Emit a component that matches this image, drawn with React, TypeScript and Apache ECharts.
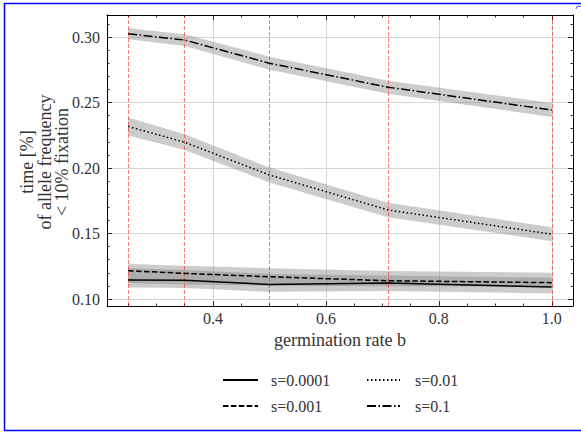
import React, { useEffect, useRef } from "react";
import * as echarts from "echarts";

// germination rates (x) – also the positions of the red reference lines
const germination = [0.25, 0.35, 0.5, 0.71, 1.0];

// s = 0.0001 (solid)
const s0001 = [0.1145, 0.1143, 0.1112, 0.1122, 0.1092];
const s0001Lo = [0.1089, 0.1085, 0.1055, 0.1062, 0.1043];
const s0001Hi = [0.1237, 0.1222, 0.1192, 0.1180, 0.1163];
// s = 0.001 (dashed)
const s001 = [0.1216, 0.1196, 0.1170, 0.1140, 0.1125];
const s001Lo = [0.1122, 0.1112, 0.1102, 0.1097, 0.1096];
const s001Hi = [0.1267, 0.1255, 0.1235, 0.1214, 0.1201];
// s = 0.01 (dotted)
const s01 = [0.2317, 0.2197, 0.1947, 0.1680, 0.1495];
const s01Lo = [0.2249, 0.2137, 0.1890, 0.1625, 0.1442];
const s01Hi = [0.2385, 0.2257, 0.2004, 0.1735, 0.1548];
// s = 0.1 (dash-dot)
const s1 = [0.3025, 0.2977, 0.2800, 0.2617, 0.2443];
const s1Lo = [0.2983, 0.2932, 0.2750, 0.2567, 0.2390];
const s1Hi = [0.3067, 0.3022, 0.2850, 0.2667, 0.2496];

const seriesNames = ["s=0.0001", "s=0.001", "s=0.01", "s=0.1"];

// ticks
const xMajor = [0.4, 0.6, 0.8, 1.0];
const xMinor = [0.25, 0.3, 0.35, 0.45, 0.5, 0.55, 0.65, 0.7, 0.75, 0.85, 0.9, 0.95];
const yMajor = [0.1, 0.15, 0.2, 0.25, 0.3];
const yMinor = [
  0.11, 0.12, 0.13, 0.14, 0.16, 0.17, 0.18, 0.19, 0.21, 0.22, 0.23, 0.24,
  0.26, 0.27, 0.28, 0.29, 0.31,
];

const X_MIN = 0.2125;
const X_MAX = 1.0375;
const Y_MIN = 0.0947;
const Y_MAX = 0.3168;

const FONT = "Liberation Serif";
const TXT = "#333";

function bandSeries(lo: number[], hi: number[]) {
  return {
    type: "custom",
    xAxisIndex: 0,
    yAxisIndex: 0,
    z: 1,
    silent: true,
    data: germination.map((x, i) => [x, lo[i], hi[i]]),
    renderItem: (params: any, api: any) => {
      if (params.dataIndex !== 0) return null;
      const upper = germination.map((x, i) => api.coord([x, hi[i]]));
      const lower = germination.map((x, i) => api.coord([x, lo[i]])).reverse();
      return {
        type: "polygon",
        shape: { points: upper.concat(lower) },
        style: { fill: "rgba(128,128,128,0.4)", stroke: "none" },
      };
    },
  };
}

function lineSeries(name: string, vals: number[], dash: any, extra: any = {}) {
  return {
    name,
    type: "line",
    xAxisIndex: 0,
    yAxisIndex: 0,
    z: 5,
    symbol: "none",
    showSymbol: false,
    color: "#000",
    lineStyle: { color: "#000", width: 1.5, type: dash },
    data: germination.map((x, i) => [x, vals[i]]),
    ...extra,
  };
}

function xAxisDef(position: string, ticks: number[], len: number, main: boolean) {
  return {
    type: "value",
    position,
    min: X_MIN,
    max: X_MAX,
    axisLine: { show: main, lineStyle: { color: "#000", width: 1 } },
    axisTick: {
      show: true,
      inside: true,
      length: len,
      customValues: ticks,
      lineStyle: { color: "#000", width: 0.8 },
    },
    axisLabel:
      main && position === "bottom"
        ? {
            show: true,
            customValues: xMajor,
            formatter: (v: number) => v.toFixed(1),
            margin: 4,
            color: TXT,
            fontFamily: FONT,
            fontSize: 16,
          }
        : { show: false },
    splitLine:
      main && position === "bottom"
        ? { show: true, lineStyle: { color: "#d6d6d6", width: 1 } }
        : { show: false },
    ...(main && position === "bottom"
      ? {
          name: "germination rate b",
          nameLocation: "middle",
          nameGap: 24,
          nameTextStyle: { color: TXT, fontFamily: FONT, fontSize: 18 },
        }
      : {}),
  };
}

function yAxisDef(position: string, ticks: number[], len: number, main: boolean) {
  return {
    type: "value",
    position,
    min: Y_MIN,
    max: Y_MAX,
    axisLine: { show: main, lineStyle: { color: "#000", width: 1 } },
    axisTick: {
      show: true,
      inside: true,
      length: len,
      customValues: ticks,
      lineStyle: { color: "#000", width: 0.8 },
    },
    axisLabel:
      main && position === "left"
        ? {
            show: true,
            customValues: yMajor,
            formatter: (v: number) => v.toFixed(2),
            margin: 7,
            color: TXT,
            fontFamily: FONT,
            fontSize: 16,
          }
        : { show: false },
    splitLine:
      main && position === "left"
        ? { show: true, lineStyle: { color: "#d6d6d6", width: 1 } }
        : { show: false },
  };
}

export default function App() {
  const ref = useRef<HTMLDivElement>(null);

  useEffect(() => {
    if (!ref.current) return;
    const chart = echarts.init(ref.current, undefined, { renderer: "svg" });

    const legendCommon = {
      orient: "vertical",
      padding: 0,
      itemHeight: 14,
      itemGap: 10,
      itemStyle: { color: "rgba(0,0,0,0)", borderColor: "rgba(0,0,0,0)", borderWidth: 0 },
      selectedMode: false,
    };

    chart.setOption({
      animation: false,
      backgroundColor: "#fff",
      textStyle: { fontFamily: FONT, color: TXT },
      grid: { left: 107, top: 15, width: 466, height: 291, containLabel: false },
      xAxis: [
        xAxisDef("bottom", xMajor, 5, true),
        xAxisDef("bottom", xMinor, 2.5, false),
        xAxisDef("top", xMajor, 5, true),
        xAxisDef("top", xMinor, 2.5, false),
      ],
      yAxis: [
        yAxisDef("left", yMajor, 5, true),
        yAxisDef("left", yMinor, 2.5, false),
        yAxisDef("right", yMajor, 5, true),
        yAxisDef("right", yMinor, 2.5, false),
      ],
      legend: [
        {
          ...legendCommon,
          left: 222,
          top: 372,
          itemWidth: 35,
          textStyle: { color: TXT, fontFamily: FONT, fontSize: 16, padding: [0, 0, 0, 8] },
          data: [seriesNames[0], seriesNames[1]],
        },
        {
          ...legendCommon,
          left: 366,
          top: 372,
          itemWidth: 33,
          textStyle: { color: TXT, fontFamily: FONT, fontSize: 16, padding: [0, 0, 0, 10] },
          data: [seriesNames[2], seriesNames[3]],
        },
      ],
      graphic: [
        {
          type: "rect",
          silent: true,
          shape: { x: 4.5, y: 3.5, width: 600, height: 427 },
          style: { fill: "none", stroke: "#0000ff", lineWidth: 1.5 },
          z: 100,
        },
        {
          type: "arc",
          silent: true,
          shape: { cx: 579, cy: 9, r: 3, startAngle: Math.PI, endAngle: 2 * Math.PI },
          style: { fill: "none", stroke: "#4060ff", lineWidth: 1 },
          z: 100,
        },
        {
          type: "text",
          silent: true,
          x: 44.5,
          y: 162,
          rotation: Math.PI / 2,
          style: {
            text: "time [%]\nof allele frequency\n< 10% fixation",
            fontFamily: FONT,
            fontSize: 18,
            lineHeight: 17.5,
            fill: TXT,
            align: "center",
            verticalAlign: "middle",
          },
        },
      ],
      series: [
        bandSeries(s0001Lo, s0001Hi),
        bandSeries(s001Lo, s001Hi),
        bandSeries(s01Lo, s01Hi),
        bandSeries(s1Lo, s1Hi),
        lineSeries(seriesNames[0], s0001, "solid", {
          markLine: {
            silent: true,
            symbol: ["none", "none"],
            label: { show: false },
            lineStyle: { color: "rgba(255,0,0,0.5)", type: [4, 2], width: 1 },
            data: germination.map((x) => ({ xAxis: x })),
          },
        }),
        lineSeries(seriesNames[1], s001, [5.5, 2.4]),
        lineSeries(seriesNames[2], s01, [1.5, 2.5]),
        lineSeries(seriesNames[3], s1, [9, 2.5, 1.5, 2.5]),
      ],
    });

    return () => chart.dispose();
  }, []);

  return (
    <div
      ref={ref}
      style={{ position: "absolute", left: 0, top: 0, width: 581, height: 432 }}
    />
  );
}
